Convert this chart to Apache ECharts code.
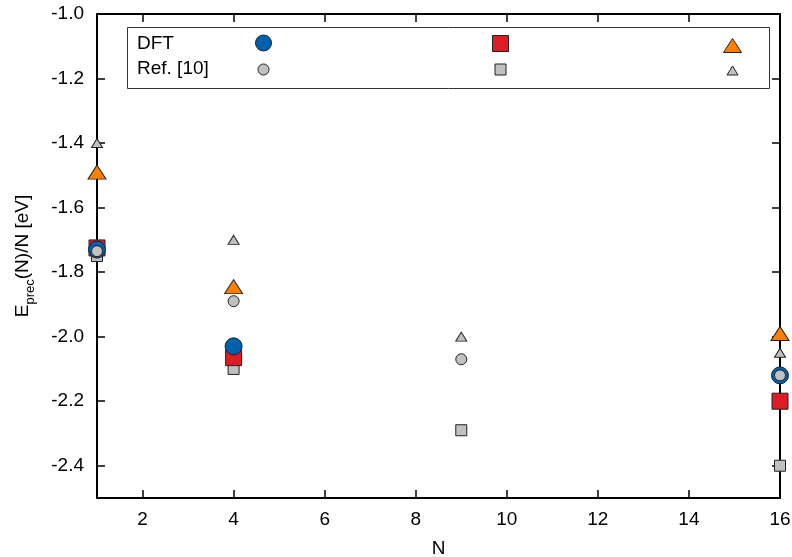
<!DOCTYPE html>
<html>
<head>
<meta charset="utf-8">
<script src="https://cdn.jsdelivr.net/npm/echarts@6/dist/echarts.min.js"></script>
<style>html,body{margin:0;padding:0;background:#fff}#c{width:792px;height:557px}</style>
</head>
<body>
<div id="c"></div>
<script>
// Data
const nDFT = [1, 4, 16];
const dftCircle = [-1.73, -2.03, -2.12];
const dftSquare = [-1.725, -2.065, -2.20];
const dftTriangle = [-1.49, -1.845, -1.99];
const nRef = [1, 4, 9, 16];
const refCircle = [-1.735, -1.89, -2.07, -2.12];
const refSquare = [-1.75, -2.10, -2.29, -2.40];
const refTriangle = [-1.40, -1.70, -2.00, -2.05];
const xTicks = [2, 4, 6, 8, 10, 12, 14, 16];
const yTicks = [-2.4, -2.2, -2.0, -1.8, -1.6, -1.4, -1.2, -1.0];

const FONT = 'Liberation Sans';
const pts = (xs, ys) => xs.map((x, i) => [x, ys[i]]);

const COL = { blue: '#0060ad', red: '#dd1c24', orange: '#ff8000', gray: '#c0c0c0', edge: '#222' };

const seriesDefs = [
  { name: 'refSquare', symbol: 'rect', size: 11, color: COL.gray, data: pts(nRef, refSquare) },
  { name: 'dftSquare', symbol: 'rect', size: 16, color: COL.red, data: pts(nDFT, dftSquare) },
  { name: 'dftCircle', symbol: 'circle', size: 17, color: COL.blue, data: pts(nDFT, dftCircle) },
  { name: 'refCircle', symbol: 'circle', size: 11, color: COL.gray, data: pts(nRef, refCircle) },
  { name: 'dftTriangle', symbol: 'triangle', size: [18, 14], color: COL.orange, data: pts(nDFT, dftTriangle) },
  { name: 'refTriangle', symbol: 'triangle', size: [11, 9], color: COL.gray, data: pts(nRef, refTriangle) }
];

const series = seriesDefs.map(s => ({
  type: 'scatter', name: s.name, symbol: s.symbol, symbolSize: s.size, clip: false,
  itemStyle: { color: s.color, borderColor: COL.edge, borderWidth: 1, opacity: 1 },
  emphasis: { disabled: true },
  data: s.data
}));

// legend placements (center x, center y, w, h)
const legendPos = {
  dftCircle: [263, 43, 16, 17],
  dftSquare: [500, 43, 16, 16],
  dftTriangle: [732, 45, 18, 14],
  refCircle: [263, 69, 11, 11],
  refSquare: [500, 69, 11, 11],
  refTriangle: [732, 70, 11, 9]
};
const legends = Object.keys(legendPos).map(k => {
  const [cx, cy, w, h] = legendPos[k];
  return {
    data: [k], left: cx - w / 2, top: cy - h / 2, itemWidth: w, itemHeight: h,
    padding: 0, itemGap: 0, selectedMode: false, formatter: () => '',
    itemStyle: { borderWidth: 1, borderColor: COL.edge },
    textStyle: { fontSize: 1 }
  };
});

const axisLineStyle = { show: true, lineStyle: { color: '#000', width: 2 } };
const tickStyle = { show: true, inside: true, length: 8, lineStyle: { color: '#000', width: 1.5 } };

const option = {
  animation: false,
  backgroundColor: '#fff',
  grid: { left: 97, right: 12, top: 14, bottom: 59, containLabel: false, outerBoundsMode: 'none' },
  legend: legends,
  xAxis: [
    {
      type: 'value', min: 1, max: 16, position: 'bottom',
      name: 'N', nameLocation: 'middle', nameGap: 41,
      nameTextStyle: { fontFamily: FONT, fontSize: 19, color: '#000' },
      axisLine: axisLineStyle,
      axisTick: Object.assign({}, tickStyle, { customValues: xTicks }),
      axisLabel: { customValues: xTicks, fontFamily: FONT, fontSize: 19, color: '#000', margin: 12 },
      splitLine: { show: false }
    },
    {
      type: 'value', min: 1, max: 16, position: 'top',
      axisLine: axisLineStyle,
      axisTick: Object.assign({}, tickStyle, { customValues: xTicks }),
      axisLabel: { show: false, customValues: xTicks },
      splitLine: { show: false }
    }
  ],
  yAxis: [
    {
      type: 'value', min: -2.5, max: -1.0, position: 'left',
      name: '{e|E}{s|prec}{e|(N)/N [eV]}', nameLocation: 'middle', nameGap: 60, nameRotate: 90,
      nameTextStyle: {
        fontFamily: FONT, color: '#000',
        rich: {
          e: { fontFamily: FONT, fontSize: 19, lineHeight: 28, verticalAlign: 'middle', color: '#000' },
          s: { fontFamily: FONT, fontSize: 13, verticalAlign: 'bottom', color: '#000' }
        }
      },
      axisLine: axisLineStyle,
      axisTick: Object.assign({}, tickStyle, { customValues: yTicks }),
      axisLabel: { customValues: yTicks, fontFamily: FONT, fontSize: 19, color: '#000', margin: 13,
        formatter: v => v.toFixed(1) },
      splitLine: { show: false }
    },
    {
      type: 'value', min: -2.5, max: -1.0, position: 'right',
      axisLine: axisLineStyle,
      axisTick: Object.assign({}, tickStyle, { customValues: yTicks }),
      axisLabel: { show: false, customValues: yTicks },
      splitLine: { show: false }
    }
  ],
  graphic: [
    { type: 'rect', z: 0, shape: { x: 127.5, y: 27.5, width: 642, height: 61 },
      style: { fill: '#fff', stroke: '#333', lineWidth: 1 } },
    { type: 'text', left: 137, top: 34, style: { text: 'DFT', fontFamily: FONT, fontSize: 19, fill: '#000' } },
    { type: 'text', left: 137, top: 59, style: { text: 'Ref. [10]', fontFamily: FONT, fontSize: 19, fill: '#000' } }
  ],
  series: series
};

const chart = echarts.init(document.getElementById('c'), null, { renderer: 'canvas' });
chart.setOption(option);
</script>
</body>
</html>
